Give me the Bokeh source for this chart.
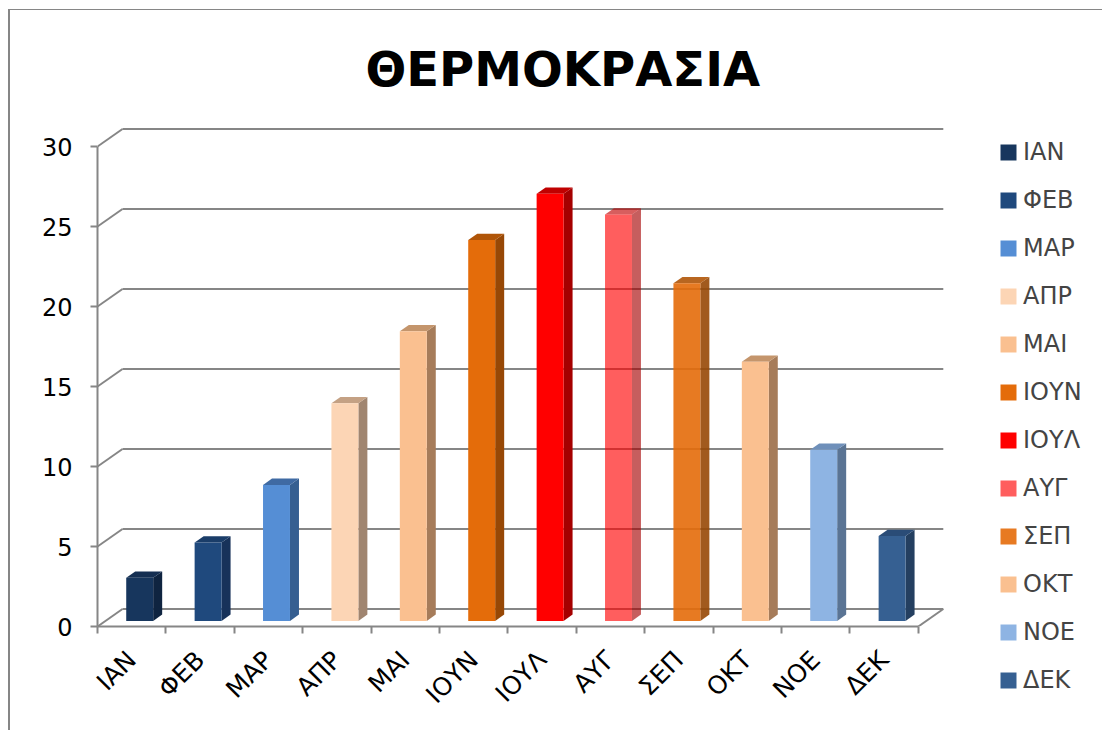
import math
from bokeh.plotting import figure
from bokeh.models import FixedTicker, Legend, LegendItem, Range1d, ColumnDataSource
from bokeh.embed import file_html
from bokeh.resources import INLINE

# ---------------- data ----------------
title_text = "ΘΕΡΜΟΚΡΑΣΙΑ"
months = ["ΙΑΝ", "ΦΕΒ", "ΜΑΡ", "ΑΠΡ", "ΜΑΙ", "ΙΟΥΝ", "ΙΟΥΛ", "ΑΥΓ", "ΣΕΠ", "ΟΚΤ", "ΝΟΕ", "ΔΕΚ"]
temps = [2.7, 4.9, 8.5, 13.6, 18.1, 23.8, 26.7, 25.4, 21.1, 16.2, 10.7, 5.3]
y_ticks = [0, 5, 10, 15, 20, 25, 30]

# ---------------- styles ----------------
front_colors = ["#17365D", "#1F497D", "#558ED5", "#FCD5B5", "#FAC090", "#E46C0A",
                "#FF0000", "#FF0000", "#E46C0A", "#FAC090", "#8EB4E3", "#366092"]
side_colors = ["#0F2440", "#17325A", "#365F91", "#A08570", "#A67C5A", "#974806",
               "#A50000", "#A50000", "#974806", "#A67C5A", "#5A7494", "#243F60"]
top_colors = ["#152F52", "#1A3D69", "#3F6AA3", "#C4A184", "#C4956C", "#B05508",
              "#C00000", "#C00000", "#B05508", "#C4956C", "#6F90BA", "#2A4C77"]
alphas = [1, 1, 1, 1, 1, 1, 1, 0.63, 0.9, 1, 1, 1]
GRID = "#868686"
FONT = "DejaVu Sans"

FRAME_W, FRAME_H = 853, 502
PX_X, PX_Y = 68.4, 16.0
n = len(months)
DX = 25 / PX_X
DY = 17.5 / PX_Y
HW = 0.197
Z0, Z1 = 0.32, 0.68

p = figure(frame_width=FRAME_W, frame_height=FRAME_H,
           x_range=Range1d(0, FRAME_W / PX_X), y_range=Range1d(0, FRAME_H / PX_Y),
           output_backend="svg", toolbar_location=None,
           min_border_left=87, min_border_right=140, min_border_top=114, min_border_bottom=104,
           title=title_text)
p.styles = {"margin-left": "8px", "margin-top": "9px",
            "border-left": "2px solid #868686", "border-top": "1px solid #868686"}
p.title.text_font = FONT
p.title.text_font_size = "48px"
p.title.text_font_style = "bold"
p.title.text_color = "black"
p.title.align = "left"
p.title.offset = 268
p.title.standoff = 56
p.grid.visible = False
p.outline_line_color = None
p.background_fill_color = "white"
p.border_fill_color = "white"

# walls / gridlines
m = len(y_ticks)
p.segment(x0=[DX] * m, y0=[t + DY for t in y_ticks], x1=[n + DX] * m, y1=[t + DY for t in y_ticks],
          line_color=GRID, line_width=2)
p.segment(x0=[0] * m, y0=y_ticks, x1=[DX] * m, y1=[t + DY for t in y_ticks],
          line_color=GRID, line_width=2)
p.segment(x0=[n], y0=[0], x1=[n + DX], y1=[DY], line_color=GRID, line_width=2)

# bars
fx, fy, sx, sy, tx, ty = [], [], [], [], [], []
for i, v in enumerate(temps):
    xl, xr = i + 0.5 - HW, i + 0.5 + HW
    fx.append([xl + Z0 * DX, xr + Z0 * DX, xr + Z0 * DX, xl + Z0 * DX])
    fy.append([Z0 * DY, Z0 * DY, v + Z0 * DY, v + Z0 * DY])
    sx.append([xr + Z0 * DX, xr + Z1 * DX, xr + Z1 * DX, xr + Z0 * DX])
    sy.append([Z0 * DY, Z1 * DY, v + Z1 * DY, v + Z0 * DY])
    tx.append([xl + Z0 * DX, xr + Z0 * DX, xr + Z1 * DX, xl + Z1 * DX])
    ty.append([v + Z0 * DY, v + Z0 * DY, v + Z1 * DY, v + Z1 * DY])

src_f = ColumnDataSource(dict(xs=fx, ys=fy, c=front_colors, a=alphas, m=months))
src_s = ColumnDataSource(dict(xs=sx, ys=sy, c=side_colors, a=alphas))
src_t = ColumnDataSource(dict(xs=tx, ys=ty, c=top_colors, a=alphas))
p.patches("xs", "ys", source=src_s, fill_color="c", fill_alpha="a", line_color=None)
p.patches("xs", "ys", source=src_t, fill_color="c", fill_alpha="a", line_color=None)
r_front = p.patches("xs", "ys", source=src_f, fill_color="c", fill_alpha="a", line_color=None)

# axes
xa = p.xaxis[0]
xa.ticker = FixedTicker(ticks=[i + 0.5 for i in range(n)], minor_ticks=list(range(n + 1)))
xa.major_label_overrides = {i + 0.5: mo for i, mo in enumerate(months)}
xa.bounds = (0, n)
xa.axis_line_color = GRID
xa.axis_line_width = 2
xa.major_tick_in = 0
xa.major_tick_out = 0
xa.minor_tick_in = 0
xa.minor_tick_out = 7
xa.minor_tick_line_color = GRID
xa.minor_tick_line_width = 2
xa.major_label_orientation = math.pi / 4
xa.major_label_text_font = FONT
xa.major_label_text_font_size = "25px"
xa.major_label_text_color = "black"
xa.major_label_standoff = 22

ya = p.yaxis[0]
ya.ticker = FixedTicker(ticks=y_ticks)
ya.bounds = (0, 30)
ya.axis_line_color = GRID
ya.axis_line_width = 2
ya.major_tick_in = 0
ya.major_tick_out = 7
ya.major_tick_line_color = GRID
ya.major_tick_line_width = 2
ya.minor_tick_out = 0
ya.minor_tick_in = 0
ya.major_label_text_font = FONT
ya.major_label_text_font_size = "24px"
ya.major_label_text_color = "black"
ya.major_label_standoff = 18

legend = Legend(items=[LegendItem(label=mo, renderers=[r_front], index=i) for i, mo in enumerate(months)],
                location=(48, -68), orientation="vertical",
                glyph_width=20, glyph_height=20, label_standoff=5,
                label_text_font=FONT, label_text_font_size="24px", label_height=28,
                spacing=20, padding=0, margin=0,
                border_line_alpha=0, background_fill_alpha=0)
p.add_layout(legend, "right")

open("out.html", "w").write(file_html(p, INLINE))
